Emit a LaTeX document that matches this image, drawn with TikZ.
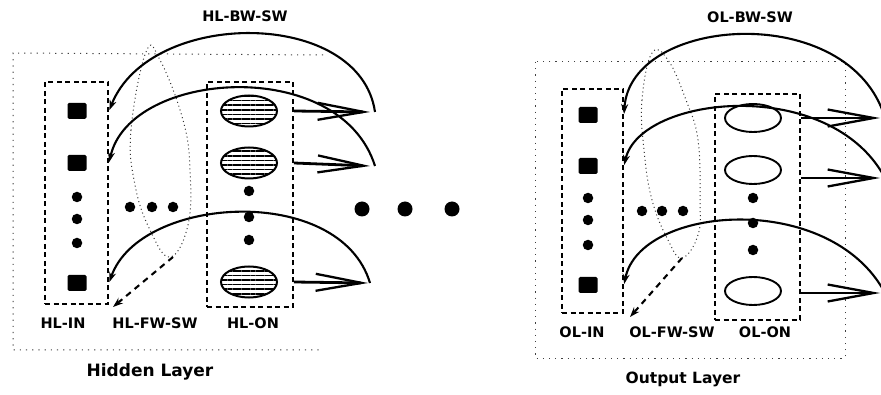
\documentclass[tikz,border=0pt]{standalone}
\usepackage{fontspec}
\setsansfont{DejaVu Sans}
\usetikzlibrary{arrows.meta,patterns.meta,shapes.geometric,positioning}

\begin{document}
\begin{tikzpicture}[
x=1pt,y=-1pt,
>={Stealth[length=10pt,width=7pt]},
unit/.style={
	fill=black,
	rounded corners=1.5pt,
	minimum width=19pt,
	minimum height=16pt,
	inner sep=0pt
},
bullet/.style={
	fill=black,
	circle,
	minimum size=10.5pt,
	inner sep=0pt
},
bigbullet/.style={
	fill=black,
	circle,
	minimum size=15pt,
	inner sep=0pt
},
hidnode/.style={
	ellipse,
	draw,
	line width=2pt,
	minimum width=56pt,
	minimum height=31pt,
	inner sep=0pt,
	pattern={Lines[angle=0,distance=4.6pt,line width=1.7pt]}
},
outnode/.style={
	ellipse,
	draw,
	line width=1.9pt,
	minimum width=56pt,
	minimum height=28pt,
	inner sep=0pt
},
group/.style={
	draw,
	dash pattern=on 5pt off 3.5pt,
	line width=2pt,
	inner sep=0pt
},
layer/.style={
	draw=black!75,
	dash pattern=on 1.2pt off 5pt,
	line width=1pt
},
fwloop/.style={
	draw=black!80,
	dash pattern=on 1pt off 3pt,
	line width=1pt
},
fwd/.style={
	line width=2.8pt,
	-{Straight Barb[length=46pt,width=17pt,line width=2.3pt]}
},
back/.style={
	->,
	line width=2.1pt,
	shorten >=1pt
},
fwarrow/.style={
	->,
	line width=2.1pt,
	dash pattern=on 6pt off 5pt
},
lab/.style={
	font=\sffamily\bfseries\fontsize{14.5}{17}\selectfont
},
title/.style={
	font=\sffamily\bfseries\fontsize{17}{19}\selectfont
}
]
\useasboundingbox (0,0) rectangle (881,395);

% hidden layer
\draw[layer] (323,55) -- (13,53) -- (13,350) -- (320,350);
\draw[fwloop] plot[smooth cycle,tension=0.7] coordinates {(146,52) (131,130) (135,185) (150,230) (170,257) (188,225) (190,170) (183,120) (160,60)};

\foreach \i/\y in {1/111,2/163,3/283}
\node[unit] (hin\i) at (77,\y) {};
\foreach \i/\y in {1/197,2/219,3/243}
\node[bullet] (hid\i) at (77,\y) {};
\foreach \i/\y in {1/111,2/163,3/282}
\node[hidnode] (hon\i) at (249,\y) {};
\foreach \i/\y in {1/191,2/217,3/240}
\node[bullet] (hod\i) at (249,\y) {};
\foreach \i/\x in {1/130,2/152,3/173}
\node[bullet] (hmid\i) at (\x,207) {};

\node[group,minimum width=63pt,minimum height=222pt] (hinbox) at (76.5,193) {};
\node[group,minimum width=86pt,minimum height=225pt] (honbox) at (250,194.5) {};

\coordinate (ht1) at (370,112);
\coordinate (ht2) at (370,166);
\coordinate (ht3) at (368,283);
\foreach \i in {1,2,3}
\draw[fwd] (honbox.east |- hon\i) -- (ht\i);

\draw[back] ([xshift=5pt]ht1) .. controls (360,8) and (150,8) .. (hinbox.east |- hin1);
\draw[back] ([xshift=5pt]ht2) .. controls (340,55) and (130,70) .. (hinbox.east |- hin2);
\draw[back] ([xshift=2pt]ht3) .. controls (340,183) and (140,195) .. (hinbox.east |- hin3);

\coordinate (hfw) at (173,257);
\coordinate (hfwend) at (113,307);
\draw[fwarrow] (hfw) -- (hfwend);

\node[lab] (hbw) at (245,16) {HL-BW-SW};
\node[lab] (hinl) at (63,323) {HL-IN};
\node[lab] (hfwl) at (155,323) {HL-FW-SW};
\node[lab] (honl) at (253,323) {HL-ON};
\node[title] (hname) at (150,372) {Hidden Layer};

% between the layers
\foreach \i/\x in {1/362,2/405,3/452}
\node[bigbullet] (gap\i) at (\x,209) {};

% output layer
\draw[layer] (535,62) rectangle (845,358);
\draw[fwloop] plot[smooth cycle,tension=0.7] coordinates {(652,53) (642,100) (644,150) (652,200) (668,240) (682,258) (698,235) (700,200) (698,140) (686,100) (668,60)};

\foreach \i/\y in {1/115,2/166,3/285}
\node[unit] (oin\i) at (588,\y) {};
\foreach \i/\y in {1/198,2/220,3/245}
\node[bullet] (oid\i) at (588,\y) {};
\foreach \i/\y in {1/118,2/170,3/291}
\node[outnode] (oon\i) at (753,\y) {};
\foreach \i/\y in {1/198,2/223,3/250}
\node[bullet] (ood\i) at (753,\y) {};
\foreach \i/\x in {1/642,2/662,3/683}
\node[bullet] (omid\i) at (\x,211) {};

\node[group,minimum width=61pt,minimum height=224pt] (oinbox) at (592.5,201) {};
\node[group,minimum width=85pt,minimum height=226pt] (oonbox) at (757.5,207) {};

\coordinate (ot1) at (880,118);
\coordinate (ot2) at (880,178);
\coordinate (ot3) at (880,293);
\foreach \i in {1,2,3}
\draw[fwd] (oonbox.east |- ot\i) -- (ot\i);

\draw[back] ([xshift=5pt]ot1) .. controls (850,0) and (630,15) .. (oinbox.east |- oin1);
\draw[back] ([xshift=5pt]ot2) .. controls (830,75) and (640,95) .. (oinbox.east |- oin2);
\draw[back] ([xshift=5pt]ot3) .. controls (830,190) and (640,205) .. (oinbox.east |- oin3);

\coordinate (ofw) at (682,258);
\coordinate (ofwend) at (630,317);
\draw[fwarrow] (ofw) -- (ofwend);

\node[lab] (obw) at (750,17) {OL-BW-SW};
\node[lab] (oinl) at (582,332) {OL-IN};
\node[lab] (ofwl) at (672,332) {OL-FW-SW};
\node[lab] (oonl) at (765,332) {OL-ON};
\node[title,font=\sffamily\bfseries\fontsize{15.5}{18}\selectfont] (oname) at (683,379) {Output Layer};
\end{tikzpicture}
\end{document}
